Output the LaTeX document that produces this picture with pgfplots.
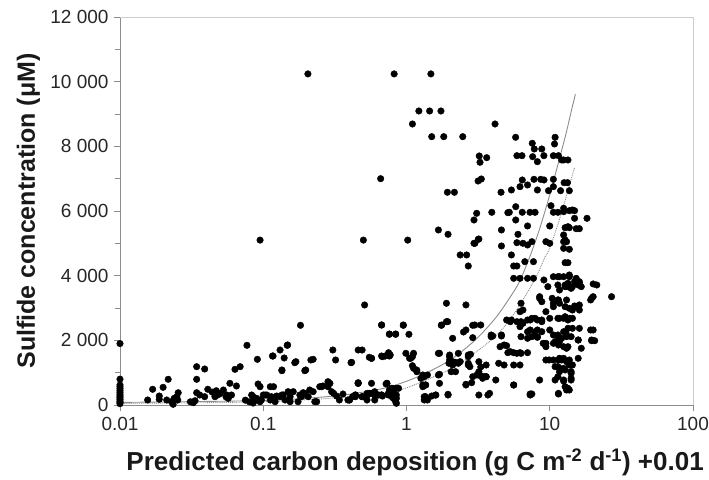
\documentclass[border=0pt]{standalone}
\usepackage{fontspec}
\setmainfont{Liberation Sans}
\usepackage{pgfplots}
\pgfplotsset{compat=1.18}
\definecolor{axgray}{gray}{0.55}
\definecolor{framegray}{gray}{0.8}
\definecolor{curvegray}{gray}{0.55}
\begin{document}
\begin{tikzpicture}
\begin{axis}[
  name=ax,
  scale only axis,
  width=573bp, height=388bp,
  xmode=log, log basis x=10,
  xmin=0.01, xmax=100, ymin=0, ymax=12000,
  axis x line=bottom, axis y line=left,
  axis line style={-, axgray, line width=0.8bp},
  xtick={0.01,0.1,1,10,100},
  xticklabels={0.01,0.1,1,10,100},
  ytick={0,2000,4000,6000,8000,10000,12000},
  minor ytick={1000,3000,5000,7000,9000,11000},
  tick style={axgray, line width=0.7bp},
  tick align=outside,
  major tick length=6bp, minor tick length=5bp,
  /pgf/number format/.cd, 1000 sep={\ }, assume math mode=true,
  /pgfplots/.cd,
  scaled y ticks=false,
  tick label style={font=\fontsize{19bp}{22bp}\selectfont, text=black!85},
  xticklabel style={yshift=-3bp},
  yticklabel style={xshift=-2bp},
  xlabel={Predicted carbon deposition (g C m\textsuperscript{-2} d\textsuperscript{-1}) +0.01},
  ylabel={Sulfide concentration (μM)},
  label style={text=black!90},
  xlabel style={font=\fontsize{26bp}{30bp}\selectfont\bfseries, at={(axis description cs:0.515,-0.147)}, anchor=center},
  ylabel style={font=\fontsize{25bp}{30bp}\selectfont\bfseries, at={(axis description cs:-0.160,0.5)}, anchor=center},
  clip=false,
]
\draw[framegray, line width=0.8bp] (rel axis cs:0,1) -- (rel axis cs:1,1) -- (rel axis cs:1,0);
% fitted curves
\addplot[curvegray, line width=0.9bp, smooth] coordinates {
(0.01,80) (0.1,140) (0.3,270) (0.5,400) (0.77,566) (1.24,900) (2.0,1380) (3.0,2000)
(4.2,2700) (5.5,3450) (6.2,3850) (7.28,4600) (8.5,5450) (10,6500) (11.5,7500) (13,8400) (14.2,9124) (15.1,9610)};
\addplot[curvegray, line width=0.9bp, densely dotted, smooth] coordinates {
(0.01,50) (0.1,100) (0.5,280) (0.85,420) (2.0,1100) (3.3,1750) (4.5,2270) (6,3000)
(8,3950) (9.3,4590) (10,4850) (12,5900) (14.9,7350)};
% observations
\addplot[only marks, mark=*, mark size=3.3bp, black] table {
x y
0.01 1900
0.01 800
0.01 620
0.01 560
0.01 500
0.01 440
0.01 380
0.01 320
0.01 270
0.01 220
0.01 170
0.01 120
0.01 80
0.01 40
0.0156 155
0.0169 486
0.0188 278
0.0188 176
0.020 547
0.0217 795
0.0212 155
0.0229 102
0.0239 206
0.0249 257
0.0255 380
0.0253 155
0.0235 22
0.0343 1185
0.039 1113
0.0343 795
0.0343 380
0.0334 133
0.0325 71
0.036 309
0.041 486
0.039 257
0.047 442
0.046 257
0.048 309
0.0527 464
0.0556 309
0.0585 670
0.057 206
0.060 309
0.0635 1103
0.069 1185
0.065 588
0.077 1846
0.091 1413
0.092 650
0.083 309
0.087 206
0.09 155
0.1 309
0.031 100
0.044 400
0.05 350
0.055 250
0.075 150
0.08 100
0.085 60
0.095 100
0.095 5100
0.116 1515
0.131 1701
0.135 1061
0.147 1846
0.14 1454
0.166 1308
0.182 2465
0.195 1061
0.215 1392
0.223 1413
0.306 1701
0.32 1392
0.41 1308
0.46 1701
0.085 257
0.090 206
0.097 155
0.106 309
0.112 155
0.118 566
0.124 278
0.135 309
0.142 155
0.154 257
0.162 412
0.175 102
0.185 257
0.195 360
0.206 257
0.223 412
0.236 102
0.255 566
0.283 566
0.292 670
0.31 360
0.34 155
0.36 340
0.40 155
0.42 257
0.46 670
0.095 566
0.103 309
0.112 566
0.114 257
0.121 102
0.131 257
0.138 309
0.149 412
0.154 102
0.18 309
0.19 380
0.211 464
0.229 102
0.248 566
0.261 588
0.283 721
0.3 412
0.325 278
0.39 155
0.44 257
0.49 257
0.53 278
0.55 360
0.6 412
0.64 309
0.68 278
0.75 309
0.81 464
0.88 516
0.51 3093
0.67 2474
0.76 2196
0.84 2196
0.117 1515
0.148 1856
0.135 1083
0.169 1340
0.198 1083
0.414 1320
0.49 1701
0.55 1475
0.57 1444
0.67 1515
0.71 1515
0.75 1618
0.76 1515
0.72 650
0.46 690
0.40 155
0.44 309
0.49 257
0.53 155
0.57 360
0.6 155
0.67 309
0.73 670
0.75 360
0.79 516
0.81 206
0.85 53
0.85 309
0.205 10240
0.82 10240
1.48 10240
0.5 5100
1.02 5100
0.66 7000
1.22 9093
1.45 9093
1.74 9093
1.10 8691
4.15 8691
1.5 8299
1.82 8299
2.47 8299
3.22 7702
3.63 7649
3.26 7507
3.16 6928
3.33 6990
1.93 6579
2.16 6579
4.57 6579
5.78 8280
10.9 8280
10.8 8073
7.55 8094
7.8 7918
8.8 7918
5.9 7711
6.4 7711
7.6 7680
8.2 7525
9.1 7711
10.6 7711
11.5 7711
12.5 7578
13.4 7578
12.1 7578
6.43 6959
7.76 6980
8.65 6980
9.12 6959
10.6 6980
12.6 6876
13.3 6876
6.2 6752
7.0 6805
8.2 6650
9.8 6628
10.6 6752
11.9 6628
13.7 6628
5.4 6650
3.09 5929
3.94 5960
5.22 5960
5.79 6133
6.43 5960
7.28 5960
7.9 5960
2.96 5722
5.79 5722
7.0 5537
10.2 6164
10.6 5960
11.4 5960
12.5 5979
13.7 6010
14.9 6010
14.4 6031
12.5 6084
14.9 5774
18.2 5774
10 5537
12.8 5484
13.7 5484
15.3 5453
16.1 5453
13.4 5515
1.67 5413
1.95 5279
4.6 5413
6.0 5279
3.17 5125
5.1 5948
4.6 4918
2.96 5001
3.2 5134
3.0 5001
5.9 5020
6.5 5001
7.0 4949
7.5 5051
9.4 5051
10 5001
12.5 5051
13.1 5051
13.7 4816
12.5 5258
12.8 5104
12.5 4846
2.37 4640
2.63 4640
2.7 4299
5.4 4640
5.6 4299
5.9 4299
6.7 4433
7.7 4433
12.8 4401
13.4 4401
5.6 3918
6.2 3918
7.0 3918
7.7 3918
9.1 3866
11.4 3968
12.5 3968
13.7 3968
15.3 3918
16.1 3814
13.4 3764
14.4 3660
9.7 3660
11.7 3557
12.8 3660
10.6 3968
11.4 3712
11.7 3968
13.7 4021
16.1 3764
12.8 3712
13.4 3660
14.1 3609
14.9 3814
15.8 3712
16.6 3660
20.1 3743
21.3 3712
27.0 3350
19.6 3300
20.1 3350
19.3 3248
8.5 3300
8.8 3195
10.4 3300
11.5 3248
10.6 3040
9.4 2886
12.8 3040
13.7 2990
14.4 2938
15.3 3040
16.1 2938
13.1 3248
14.9 3062
15.8 3040
16.1 3093
6.3 3146
6.5 2938
6.2 2886
8.5 3350
10.6 3146
11.4 3248
11.7 3146
5.0 2629
5.4 2629
5.9 2577
6.3 2577
7.0 2629
7.5 2681
8.2 2629
8.8 2629
10 2681
11.4 2681
12.5 2681
13.4 2629
14.4 2681
16.1 2372
19.3 2320
20.1 2320
5.3 2577
6.5 2526
7.3 2629
7.9 2681
8.8 2577
11.7 2681
12.8 2731
13.7 2681
14.4 2372
6.2 2422
6.3 2113
7.3 2320
7.5 2113
8.2 2320
8.2 2113
8.8 2267
10 2320
10.6 2165
11.5 2113
12.1 2063
13.0 2218
13.4 2372
14.1 2113
15.8 2010
16.6 1754
7.0 2267
7.9 2267
11.4 2165
12.5 2267
13.1 2113
15.8 2010
19.6 2010
20.6 1989
19.6 1989
7.0 2063
8.2 2093
9.4 1908
10.9 1958
11.5 1856
13.4 1803
12.5 1803
13.1 1754
9.0 1908
9.4 1803
10.6 1908
11.7 1958
4.8 1856
5.1 1618
5.3 1650
5.6 1618
5.9 1598
6.2 1618
6.3 1598
7.0 1618
9.4 1392
9.9 1392
10.6 1392
11.5 1392
12.5 1444
13.7 1392
15.8 1444
12.1 1392
14.4 1237
13.1 1340
11.7 1444
4.4 1290
4.8 1237
5.6 1237
6.2 1237
10.9 1185
11.4 1185
11.7 1135
12.5 1135
12.8 1083
13.7 1237
14.1 1237
11.7 1030
14.1 1030
14.1 980
11.4 875
14.1 826
8.5 773
10.9 773
12.5 773
14.1 773
12.5 742
5.6 619
12.8 566
13.4 516
13.1 464
13.7 464
11.5 360
11.5 340
7.5 340
7.3 340
0.67 2474
0.76 2187
0.84 2187
0.95 2474
1.04 2187
1.76 2474
1.9 2577
2.1 2063
2.6 2320
3.0 2474
3.3 2474
3.9 2165
4.6 2165
1.9 3146
2.6 3094
0.57 1444
0.68 1494
0.77 1546
0.99 1598
1.07 1444
1.12 1598
1.67 1598
2.0 1546
2.3 1598
2.7 1546
2.0 1392
2.1 1237
2.3 1290
2.7 1237
3.3 1175
3.2 1030
1.12 1135
1.18 1030
1.3 875
1.4 928
1.3 619
1.36 619
1.67 928
1.7 670
2.6 619
2.9 875
3.2 928
3.5 875
3.6 875
3.2 309
3.7 309
5.6 619
7.3 309
1.33 257
1.4 155
1.5 278
1.6 309
1.95 309
0.44 309
0.53 360
0.57 670
0.6 309
0.67 309
0.73 670
0.75 360
0.79 516
0.85 206
0.46 670
1.05 1444
1.1 1494
1.1 1216
1.18 1083
1.7 1598
2.0 1494
1.98 1290
2.1 1340
2.2 1320
2.37 1340
2.7 1494
2.8 1567
2.7 1290
2.77 1185
3.2 1340
3.6 1237
3.9 2113
4.5 1803
5.0 1834
4.2 773
3.6 875
3.3 906
3.4 826
3.1 928
2.85 690
2.6 640
2.2 1030
2.05 1030
1.7 949
1.6 309
1.4 206
1.36 257
1.33 155
1.3 566
1.36 619
1.33 875
1.26 826
1.3 928
0.84 516
0.76 464
0.82 360
0.79 257
0.84 102
3.8 360
1.95 330
2.9 2465
2.5 2258
2.9 2082
4.0 2134
4.6 2134
1.94 2577
1.75 2465
0.95 2465
};
\end{axis}
\pgfresetboundingbox
\useasboundingbox ([xshift=-120bp,yshift=-75bp]ax.south west) rectangle ([xshift=16bp,yshift=17bp]ax.north east);
\end{tikzpicture}
\end{document}
